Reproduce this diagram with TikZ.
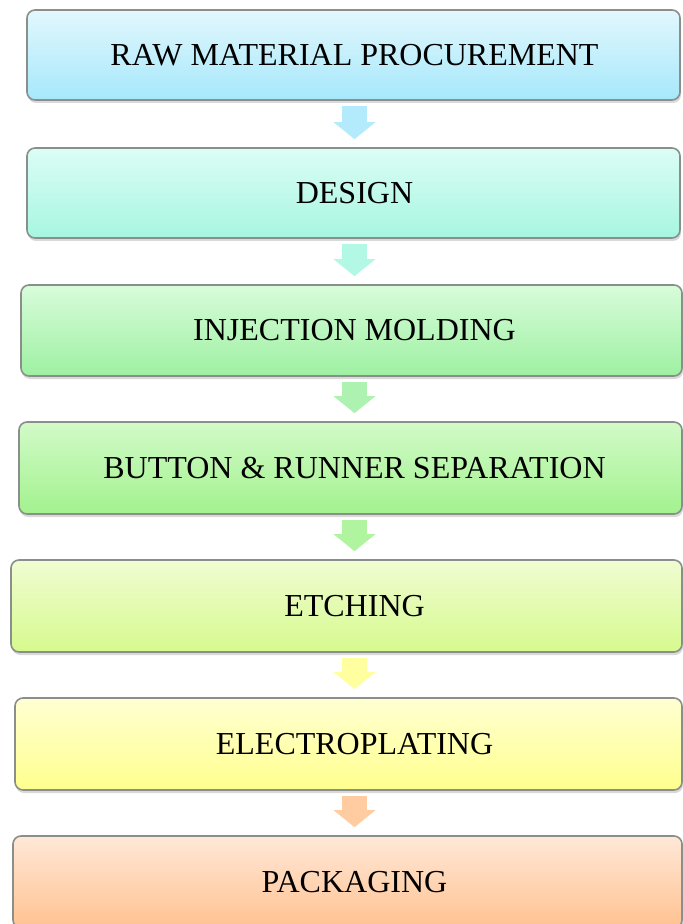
\documentclass[tikz,border=0pt]{standalone}
\usepackage{fontspec}
\setmainfont{Liberation Serif}
\usetikzlibrary{arrows.meta,shadows}

\definecolor{edgegray}{HTML}{8A8F8C}
\definecolor{rawtop}{HTML}{E2F7FD}
\definecolor{rawbot}{HTML}{A6E8FB}
\definecolor{destop}{HTML}{DCFDF6}
\definecolor{desbot}{HTML}{A6F6E0}
\definecolor{injtop}{HTML}{D8FCDA}
\definecolor{injbot}{HTML}{9EF0A2}
\definecolor{buttop}{HTML}{D2FAC8}
\definecolor{butbot}{HTML}{A2F28E}
\definecolor{etctop}{HTML}{F0FCD2}
\definecolor{etcbot}{HTML}{D6FA8E}
\definecolor{eletop}{HTML}{FFFFD2}
\definecolor{elebot}{HTML}{FFFF8E}
\definecolor{pactop}{HTML}{FFE8D8}
\definecolor{pacbot}{HTML}{FFC290}

% text in the boxes stands on one common axis, the boxes do not
\newcommand{\steptext}[2]{\hspace*{#1}#2}

\begin{document}
\begin{tikzpicture}[x=0.5pt, y=-0.5pt, line width=0.8pt,
  main/.style = {draw=edgegray, rounded corners=4pt, inner sep=0pt, minimum height=46pt,
    font=\fontsize{16}{18}\selectfont,
    drop shadow={opacity=0.3, shadow xshift=0.5pt, shadow yshift=-1.5pt}},
  flow/.style = {line width=12.5pt, -{Triangle[length=8.5pt, width=20.5pt]},
    shorten <=2.5pt, shorten >=4pt}]
  \useasboundingbox (0,0) rectangle (683,924);
  \coordinate (mid) at (354.5,0);
  \node[main, minimum width=326.5pt, minimum height=45pt, top color=rawtop, bottom color=rawbot] (1) at (353.5,55) {\steptext{1pt}{RAW MATERIAL PROCUREMENT}};
  \node[main, minimum width=326.5pt, minimum height=45pt, top color=destop, bottom color=desbot] (2) at (353.5,193) {\steptext{1pt}{DESIGN}};
  \node[main, minimum width=330.5pt, minimum height=45.5pt, top color=injtop, bottom color=injbot] (3) at (351.5,330.5) {\steptext{3pt}{INJECTION MOLDING}};
  \node[main, minimum width=331.5pt, top color=buttop, bottom color=butbot] (4) at (350.5,468) {\steptext{4pt}{BUTTON \& RUNNER SEPARATION}};
  \node[main, minimum width=335.5pt, top color=etctop, bottom color=etcbot] (5) at (346.5,606) {\steptext{8pt}{ETCHING}};
  \node[main, minimum width=333.5pt, top color=eletop, bottom color=elebot] (6) at (348.5,744) {\steptext{6pt}{ELECTROPLATING}};
  \node[main, minimum width=334.5pt, top color=pactop, bottom color=pacbot] (7) at (347.5,882) {\steptext{7pt}{PACKAGING}};
  \draw[flow, draw=rawbot!85!white] (mid |- 1.south) -- (mid |- 2.north);
  \draw[flow, draw=desbot!85!white] (mid |- 2.south) -- (mid |- 3.north);
  \draw[flow, draw=injbot!85!white] (mid |- 3.south) -- (mid |- 4.north);
  \draw[flow, draw=butbot!85!white] (mid |- 4.south) -- (mid |- 5.north);
  \draw[flow, draw=elebot!85!white] (mid |- 5.south) -- (mid |- 6.north);
  \draw[flow, draw=pacbot!85!white] (mid |- 6.south) -- (mid |- 7.north);
\end{tikzpicture}
\end{document}
